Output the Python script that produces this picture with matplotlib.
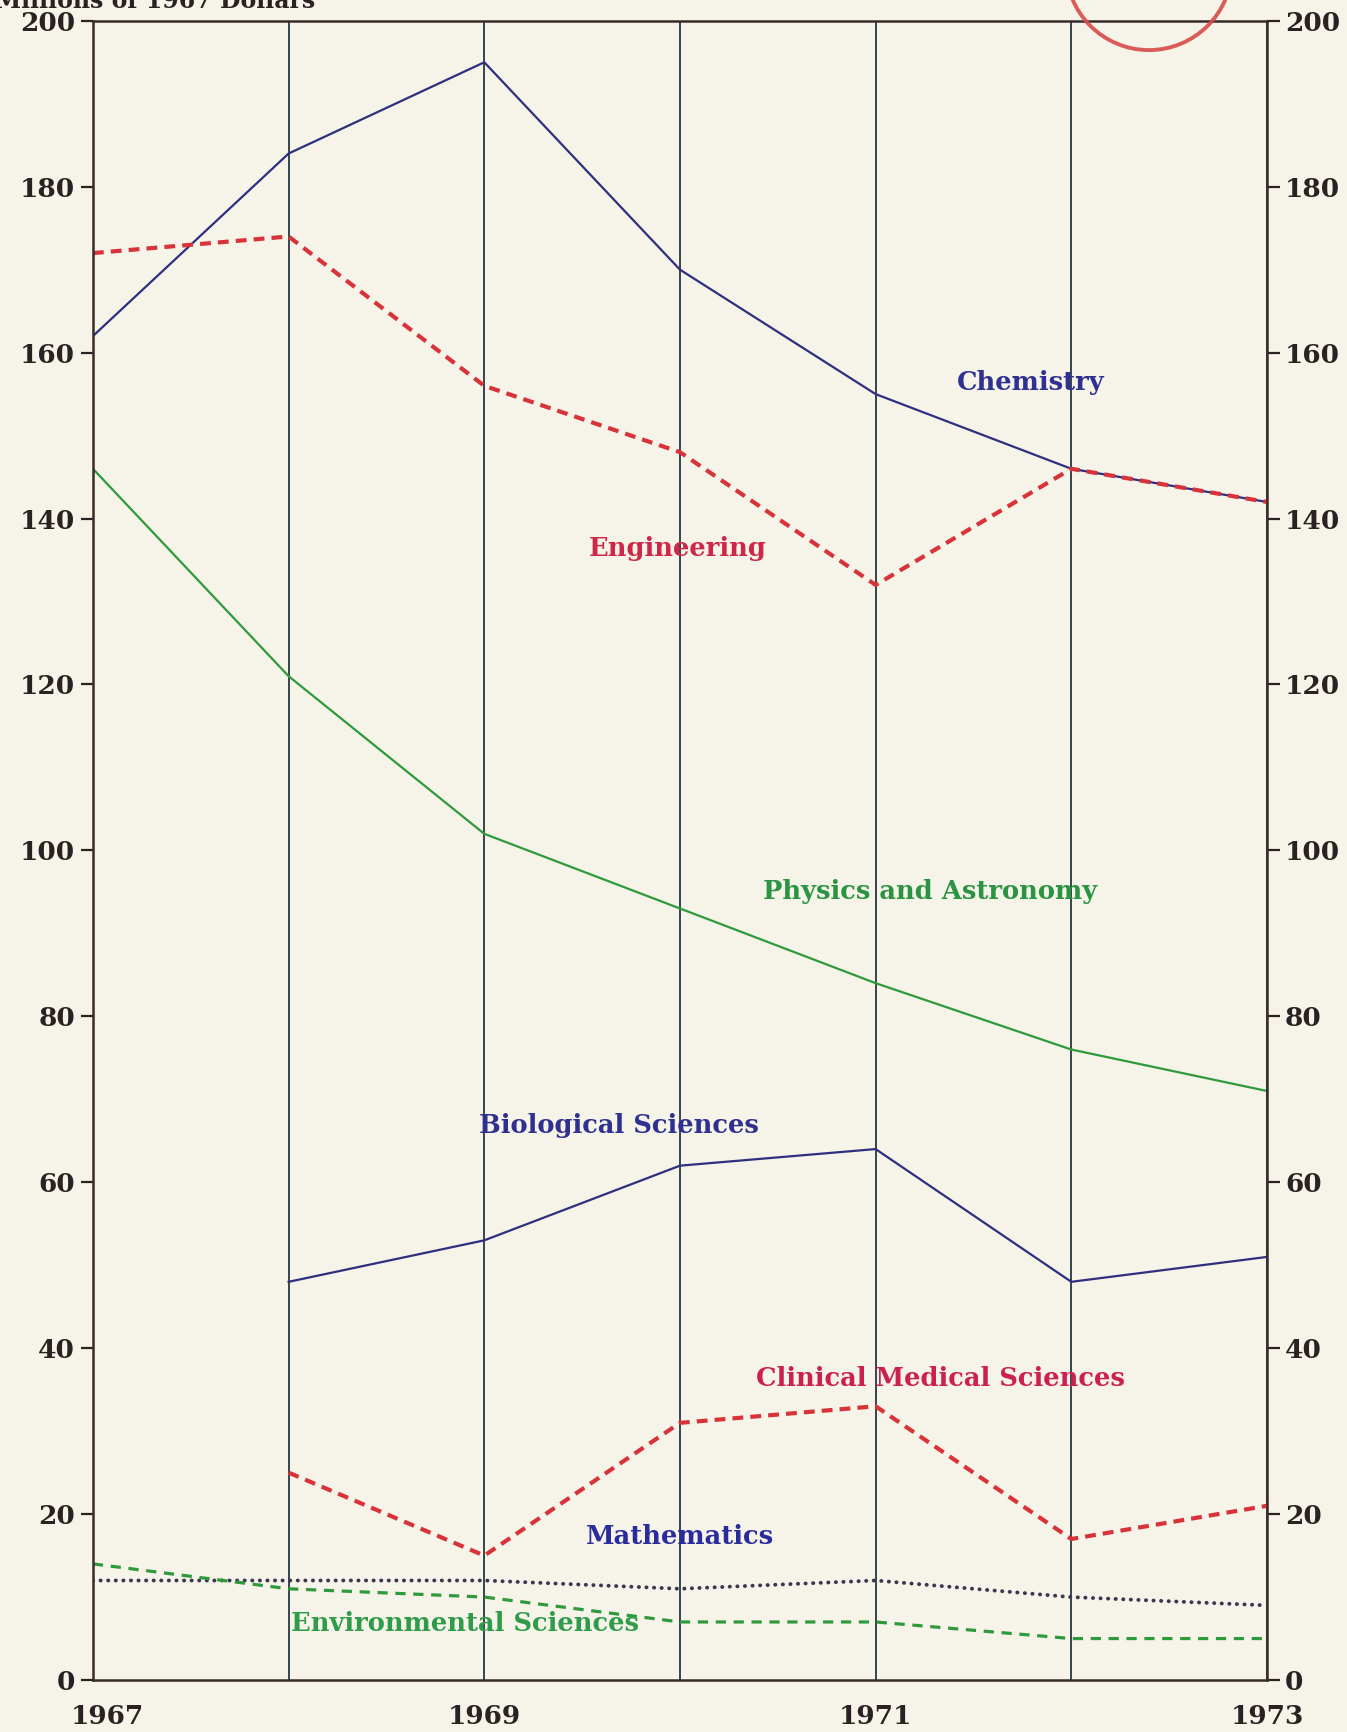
import numpy as np
import matplotlib
matplotlib.use("Agg")
import matplotlib.pyplot as plt
import matplotlib.transforms as mtransforms
from matplotlib.patches import Ellipse

years = [1967, 1968, 1969, 1970, 1971, 1972, 1973]
years_late = [1968, 1969, 1970, 1971, 1972, 1973]

chemistry = [162, 184, 195, 170, 155, 146, 142]
engineering = [172, 174, 156, 148, 132, 146, 142]
physics = [146, 121, 102, 93, 84, 76, 71]
biological = [48, 53, 62, 64, 48, 51]
clinical = [25, 15, 31, 33, 17, 21]
mathematics = [12, 12, 12, 11, 12, 10, 9]
environmental = [14, 11, 10, 7, 7, 5, 5]

y_ticks = list(range(0, 201, 20))
x_labels = ["1967", "", "1969", "", "1971", "", "1973"]

# label text, x, y, colour
labels = [
    ("Chemistry", 1971.79, 156.4, "#2f3190"),
    ("Engineering", 1969.99, 136.4, "#cf2748"),
    ("Physics and Astronomy", 1971.28, 95.1, "#2a9442"),
    ("Biological Sciences", 1969.69, 66.8, "#2f3190"),
    ("Clinical Medical Sciences", 1971.33, 36.3, "#cc2150"),
    ("Mathematics", 1970.0, 17.3, "#2a2c9c"),
    ("Environmental Sciences", 1968.90, 6.8, "#2f9c4a"),
]

bg = "#f6f3e8"
navy = "#2e2f7e"
red = "#d9333a"
green = "#2e9a3c"
ink = "#2a2222"

plt.rcParams['font.family'] = ['DejaVu Serif']

fig = plt.figure(figsize=(13.47, 17.32), dpi=100, facecolor=bg)
ax = fig.add_axes([0.069, 0.030, 0.8716, 0.958])
ax.set_facecolor(bg)

ax.plot(years, chemistry, color=navy, lw=1.6)
ax.plot(years, engineering, color=red, lw=3.0, dashes=(2.6, 1.7))
ax.plot(years, physics, color=green, lw=1.6)
ax.plot(years_late, biological, color=navy, lw=1.6)
ax.plot(years_late, clinical, color=red, lw=3.0, dashes=(2.6, 1.7))
ax.plot(years, mathematics, color="#3c3650", lw=2.8, dashes=(0.05, 1.9),
        dash_capstyle="round")
ax.plot(years, environmental, color=green, lw=2.3, dashes=(3.2, 2.4))

for txt, x, y, c in labels:
    ax.text(x, y, txt, color=c, fontsize=18.5, fontweight="bold",
            ha="center", va="center")

ax.set_xlim(1967, 1973)
ax.set_ylim(0, 200)
ax.set_xticks(years)
ax.set_xticklabels(x_labels, fontsize=19, fontweight="bold", color=ink)
ax.set_yticks(y_ticks)
ax.tick_params(axis="x", length=0, pad=17)
ax.tick_params(axis="y", direction="out", length=9, width=1.6, colors=ink,
               labelsize=19, left=True, right=True, labelleft=True,
               labelright=True, pad=4)
for lab in ax.get_yticklabels():
    lab.set_fontweight("bold")
# first year label sits a little to the right of the axis
first = ax.get_xticklabels()[0]
first.set_transform(first.get_transform() +
                    mtransforms.ScaledTranslation(0.14, 0, fig.dpi_scale_trans))

ax.grid(axis="x", color="#283640", lw=1.3)
ax.set_axisbelow(True)
for side in ["left", "right", "top", "bottom"]:
    ax.spines[side].set_color("#3a2a2a")
    ax.spines[side].set_linewidth(1.8)

fig.text(-0.004, 0.9995, "Millions of 1967 Dollars", fontsize=17,
         fontweight="bold", color=ink, ha="left", va="center")

# red stamp partly visible at the top
stamp = Ellipse((0.853, 1.019), 166 / 1347, 166 / 1732,
                transform=fig.transFigure, fill=False,
                edgecolor="#d84a4a", lw=2.8, alpha=0.9)
stamp.set_clip_on(False)
fig.add_artist(stamp)

fig.savefig("out.png", dpi=100, facecolor=bg)
